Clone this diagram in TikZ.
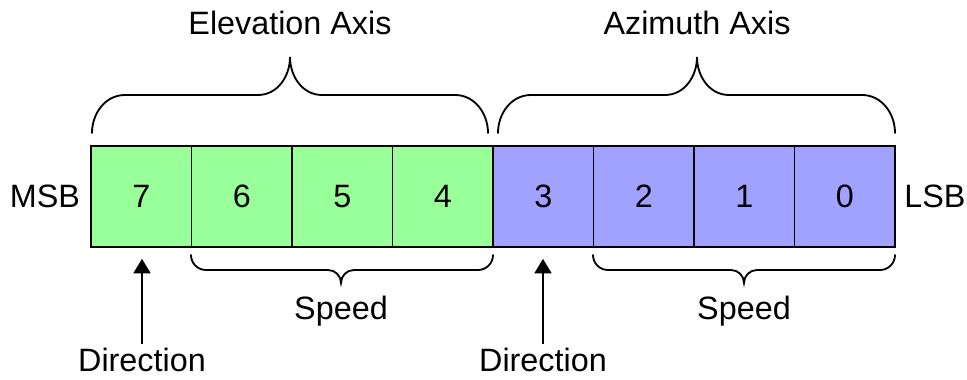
\documentclass[tikz,border=0pt]{standalone}
\usepackage{fontspec}
\setmainfont{Liberation Sans}
\usepackage{tikz}
\usetikzlibrary{positioning,arrows.meta}

\definecolor{elevgreen}{RGB}{153,255,153}
\definecolor{azimblue}{RGB}{161,161,255}

\tikzset{
  every node/.style={font=\fontsize{23}{27}\selectfont},
  bitcell/.style={draw=black,line width=1.2pt,minimum width=2.5125cm,minimum height=2.525cm,inner sep=0pt},
  bracepath/.style={line width=1.3pt,line cap=round},
  dirarrow/.style={line width=1.6pt,-{Triangle[width=0.42cm,length=0.36cm]},shorten >=0.275cm}
}

\begin{document}
\begin{tikzpicture}[x=0.025cm,y=0.025cm]
  \useasboundingbox (0,0) rectangle (967,380);

  % the eight bits of the byte
  \foreach \i/\b/\c in {0/7/elevgreen, 1/6/elevgreen, 2/5/elevgreen, 3/4/elevgreen,
                        4/3/azimblue, 5/2/azimblue, 6/1/azimblue, 7/0/azimblue}{
    \node[bitcell,fill=\c] (bit\b) at ({141.25+100.5*\i},183.5) {\b};
  }
  \node (msb) at (45,183.5) {MSB};
  \node (lsb) at (935,183.5) {LSB};

  % axis braces above
  \foreach \xa/\xt/\xb in {92/290/488, 498/697/895}{
    \draw[bracepath] (\xa,247) to[out=90,in=180] (\xa+33,285) -- (\xt-32,285)
      to[out=0,in=270] (\xt,323) to[out=270,in=180] (\xt+32,285) -- (\xb-33,285)
      to[out=0,in=90] (\xb,247);
  }
  \node[anchor=base] (elev) at (290,345) {Elevation Axis};
  \node[anchor=base] (azim) at (697,345) {Azimuth Axis};

  % speed braces below
  \foreach \xa/\xt/\xb in {191/341/493, 593/744/895}{
    \draw[bracepath] (\xa,125) to[out=270,in=180] (\xa+15,110) -- (\xt-13,110)
      to[out=0,in=90] (\xt,97) to[out=90,in=180] (\xt+13,110) -- (\xb-15,110)
      to[out=0,in=270] (\xb,125);
  }
  \node[anchor=base] (speedelev) at (341,60) {Speed};
  \node[anchor=base] (speedazim) at (744,60) {Speed};

  % direction bits
  \node[anchor=base] (direlev) at (142,8) {Direction};
  \node[anchor=base] (dirazim) at (543,8) {Direction};
  \draw[dirarrow] (direlev.north) -- (direlev.north |- bit7.south);
  \draw[dirarrow] (dirazim.north) -- (dirazim.north |- bit3.south);
\end{tikzpicture}
\end{document}
